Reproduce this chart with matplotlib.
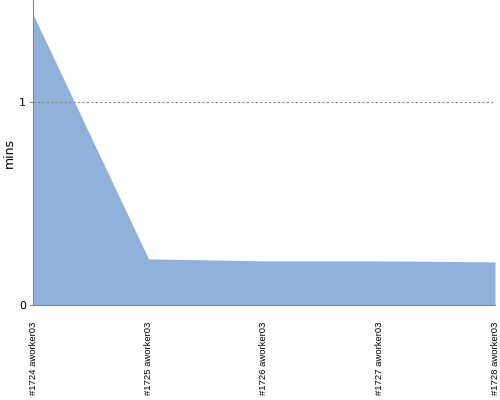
import matplotlib
matplotlib.use("Agg")
import matplotlib.pyplot as plt

labels = ["#1724 aworker03", "#1725 aworker03", "#1726 aworker03", "#1727 aworker03", "#1728 aworker03"]
values = [1.43, 0.227, 0.217, 0.217, 0.212]

fig = plt.figure(figsize=(5, 4), dpi=100)
ax = fig.add_axes([0.066, 0.2375, 0.924, 0.7625])
x = list(range(len(labels)))
ax.fill_between(x, values, 0, color="#8fb1da", linewidth=0)
ax.set_xlim(0, len(labels) - 1)
ax.set_ylim(0, 1.5)
ax.set_yticks([0, 1])
ax.set_yticklabels(["0", "1"], fontsize=8)
ax.set_xticks(x)
ax.set_xticklabels(labels, rotation=90, fontsize=6.8, va="top", ha="center",
                   family=["Liberation Sans", "DejaVu Sans"])
ax.tick_params(axis="x", length=0, pad=12)
ax.tick_params(axis="y", length=3, pad=2, color="#888888")
ax.axhline(1, color="#888888", linestyle=(0, (2, 2)), linewidth=0.8, zorder=3)
for s in ["top", "right"]:
    ax.spines[s].set_visible(False)
for s in ["left", "bottom"]:
    ax.spines[s].set_color("#888888")
ax.set_ylabel("mins", fontsize=9)
ax.yaxis.set_label_coords(-0.038, 0.5)
fig.savefig("out.png", dpi=100)
